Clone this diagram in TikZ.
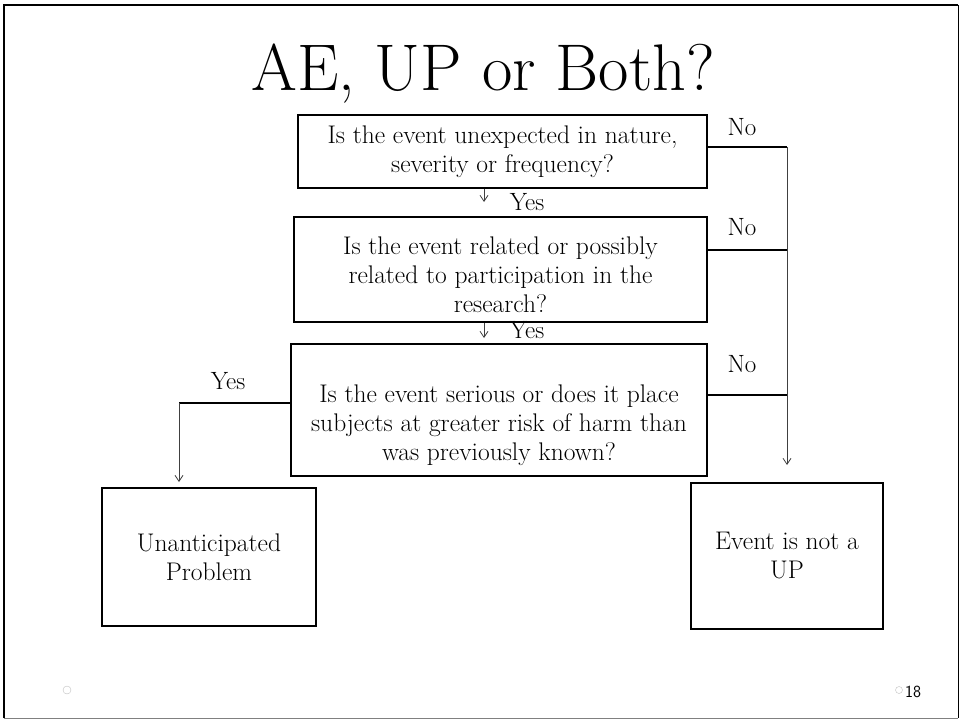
\documentclass[tikz,border=0pt]{standalone}
\usepackage{tikz}
\usetikzlibrary{arrows.meta}

\begin{document}
\begin{tikzpicture}[x=1pt,y=-1pt,>={Straight Barb[length=6pt,width=8pt]},
		qbox/.style={draw,line width=2.2pt,align=center,inner sep=0pt,
			font=\fontsize{25.5}{29}\selectfont},
		lbl/.style={anchor=base,inner sep=0pt,font=\fontsize{25}{28}\selectfont},
		hline/.style={line width=1.5pt},
		vline/.style={line width=0.8pt,black!75}]
		\useasboundingbox (0,0) rectangle (961,721);

		% draw the slide frame
		\draw[line width=2.2pt] (4,718) -- (4,5) -- (958,5);
		\draw[line width=0.8pt] (958,5) -- (958,718);
		\draw[line width=1pt,gray] (4,718) -- (958,718);

		% draw the title
		\node[anchor=base,inner sep=0pt,font=\fontsize{66}{76}\selectfont] (title) at (483,90) {AE, UP or Both?};

		% draw the question boxes
		% (the rules push the text of the taller boxes a bit down)
		\node[qbox,minimum width=409pt,minimum height=73pt] (q1) at (502.5,151.5)
			{Is the event unexpected in nature,\\severity or frequency?};
		\node[qbox,minimum width=413pt,minimum height=105pt] (q2) at (500.5,269.5)
			{\rule{0pt}{28pt}Is the event related or possibly\\related to participation in the\\research?};
		\node[qbox,minimum width=416pt,minimum height=132pt] (q3) at (499,410)
			{\rule{0pt}{48pt}Is the event serious or does it place\\subjects at greater risk of harm than\\was previously known?};

		% draw the outcome boxes
		\node[qbox,minimum width=214pt,minimum height=138pt] (up) at (209,557)
			{Unanticipated\\Problem};
		\node[qbox,minimum width=192pt,minimum height=146pt] (notup) at (787,556)
			{Event is not a\\UP};

		% the short yes arrows between the questions
		\coordinate (y1) at (484,202);
		\coordinate (y2) at (484,338);
		\draw[vline,->] (q1.south -| y1) -- (y1);
		\draw[vline,->] (q2.south -| y2) -- (y2);
		\node[lbl] (yes1) at (527,210) {Yes};
		\node[lbl] (yes2) at (527,338) {Yes};

		% the no branch on the right
		\foreach \n/\y/\ly in {1/147/135,2/250/235,3/395/372} {
			\coordinate (r\n) at (787,\y);
			\draw[hline] (q\n.east |- r\n) -- (r\n);
			\node[lbl] (no\n) at (742,\ly) {No};
		}
		\coordinate (a5) at (787,465);
		\draw[vline,->] (r1) -- (a5);

		% the yes branch on the left
		\coordinate (l3) at (179,403);
		\coordinate (a4) at (179,482);
		\draw[hline] (q3.west |- l3) -- (l3);
		\draw[vline,->] (l3) -- (a4);
		\node[lbl] (yes3) at (228,389) {Yes};

		% footer marks and slide number
		\node[circle,draw=gray!50,inner sep=0pt,minimum size=8pt] (dotl) at (67,690) {};
		\node[circle,draw=gray!50,inner sep=0pt,minimum size=7pt] (dotr) at (899,690) {};
		\node[anchor=base west,inner sep=0pt,font=\sffamily\fontsize{17}{20}\selectfont] (pagenum) at (905,697) {18};
	\end{tikzpicture}
\end{document}
